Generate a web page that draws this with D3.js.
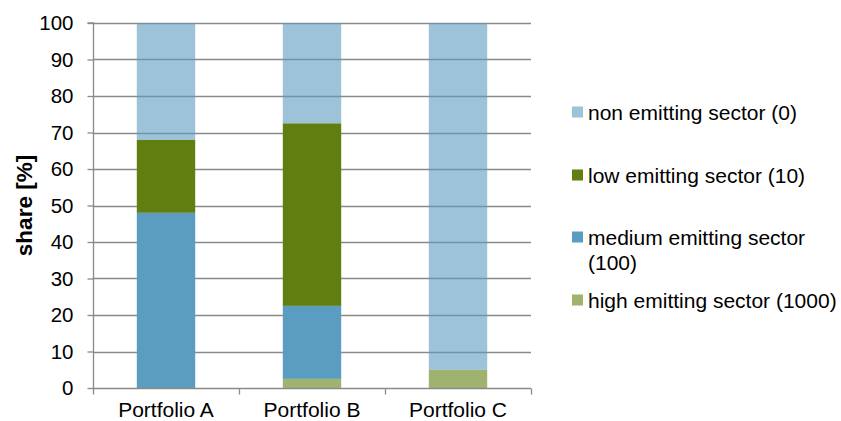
<!DOCTYPE html>
<html>
<head>
<meta charset="utf-8">
<script src="https://cdn.jsdelivr.net/npm/d3@7"></script>
<style>
  html, body { margin: 0; padding: 0; background: #fff; }
  svg { display: block; font-family: "Liberation Sans", Arial, sans-serif; }
</style>
</head>
<body>
<svg id="chart" width="841" height="421"></svg>
<script>
// Portfolios on the x axis
const portfolios = ["Portfolio A", "Portfolio B", "Portfolio C"];

// Share of each sector class per portfolio, in percent
const highEmitting   = [0, 2.5, 5];
const mediumEmitting = [48, 20, 0];
const lowEmitting    = [20, 50, 0];
const nonEmitting    = [32, 27.5, 95];

const seriesKeys = ["high", "medium", "low", "non"];
const yTicks = [0, 10, 20, 30, 40, 50, 60, 70, 80, 90, 100];

const colors = {
  high: "#a0b26f",
  medium: "#5b9cc1",
  low: "#617f10",
  non: "#5b9bc0"
};
const opacity = { high: 1, medium: 1, low: 1, non: 0.6 };

const rows = portfolios.map((p, i) => ({
  portfolio: p,
  high: highEmitting[i],
  medium: mediumEmitting[i],
  low: lowEmitting[i],
  non: nonEmitting[i]
}));

const svg = d3.select("#chart");
const m = { left: 93, right: 310, top: 23, bottom: 33 };
const W = 841, H = 421;

const x = d3.scaleBand().domain(portfolios).range([m.left, W - m.right]).paddingInner(0.6).paddingOuter(0.3);
const y = d3.scaleLinear().domain([0, 100]).range([H - m.bottom, m.top]);
const gridColor = "#8a8a8a";

// horizontal gridlines
svg.append("g")
  .selectAll("line")
  .data(yTicks.filter(d => d > 0))
  .join("line")
  .attr("x1", m.left).attr("x2", W - m.right)
  .attr("y1", d => Math.round(y(d)) + 0.5).attr("y2", d => Math.round(y(d)) + 0.5)
  .attr("stroke", gridColor).attr("stroke-width", 1.3);

// stacked bars
const stack = d3.stack().keys(seriesKeys)(rows);
svg.append("g")
  .selectAll("g")
  .data(stack)
  .join("g")
  .attr("fill", d => colors[d.key])
  .attr("fill-opacity", d => opacity[d.key])
  .selectAll("rect")
  .data(d => d)
  .join("rect")
  .attr("x", d => x(d.data.portfolio))
  .attr("width", x.bandwidth())
  .attr("y", d => y(d[1]))
  .attr("height", d => y(d[0]) - y(d[1]));

// y axis
const yAxis = svg.append("g")
  .attr("transform", `translate(${m.left + 0.5},0)`)
  .call(d3.axisLeft(y).tickValues(yTicks).tickSize(6).tickPadding(14));
yAxis.select(".domain").attr("stroke", gridColor).attr("stroke-width", 1.3).attr("d", `M-6,${y(100)}H0V${y(0)}`);
yAxis.selectAll(".tick line").attr("stroke", gridColor).attr("stroke-width", 1.3);
yAxis.selectAll(".tick text").attr("font-size", 20.5).attr("fill", "#000").attr("font-family", "Liberation Sans, Arial, sans-serif");

// x axis with category boundary ticks
const xAxis = svg.append("g").attr("transform", `translate(0,${y(0) + 0.5})`);
xAxis.append("line")
  .attr("x1", m.left).attr("x2", W - m.right)
  .attr("stroke", gridColor).attr("stroke-width", 1.3);
const step = x.step();
const start = x(portfolios[0]) - (step - x.bandwidth()) / 2;
const bounds = d3.range(portfolios.length + 1).map(i => start + i * step);
xAxis.selectAll(".bnd")
  .data(bounds)
  .join("line")
  .attr("x1", d => Math.round(d) + 0.5).attr("x2", d => Math.round(d) + 0.5)
  .attr("y1", 0).attr("y2", 6)
  .attr("stroke", gridColor).attr("stroke-width", 1.3);
xAxis.selectAll(".lbl")
  .data(portfolios)
  .join("text")
  .attr("x", d => x(d) + x.bandwidth() / 2)
  .attr("y", 28)
  .attr("text-anchor", "middle")
  .attr("font-size", 21)
  .text(d => d);

// y axis title
svg.append("text")
  .attr("transform", `translate(32,${(y(0) + y(100)) / 2}) rotate(-90)`)
  .attr("text-anchor", "middle")
  .attr("font-size", 22.5)
  .attr("font-weight", "bold")
  .text("share [%]");

// legend, top entry is the top of the stack
const legendItems = [
  { key: "non", lines: ["non emitting sector (0)"], cy: 112 },
  { key: "low", lines: ["low emitting sector (10)"], cy: 175 },
  { key: "medium", lines: ["medium emitting sector", "(100)"], cy: 237 },
  { key: "high", lines: ["high emitting sector (1000)"], cy: 300 }
];
const legend = svg.append("g");
legendItems.forEach(it => {
  legend.append("rect")
    .attr("x", 572).attr("y", it.cy - 5.5)
    .attr("width", 11).attr("height", 11)
    .attr("fill", colors[it.key]).attr("fill-opacity", opacity[it.key]);
  it.lines.forEach((t, j) => {
    legend.append("text")
      .attr("x", 588).attr("y", it.cy + 7.5 + j * 25)
      .attr("font-size", 21)
      .text(t);
  });
});
</script>
</body>
</html>
